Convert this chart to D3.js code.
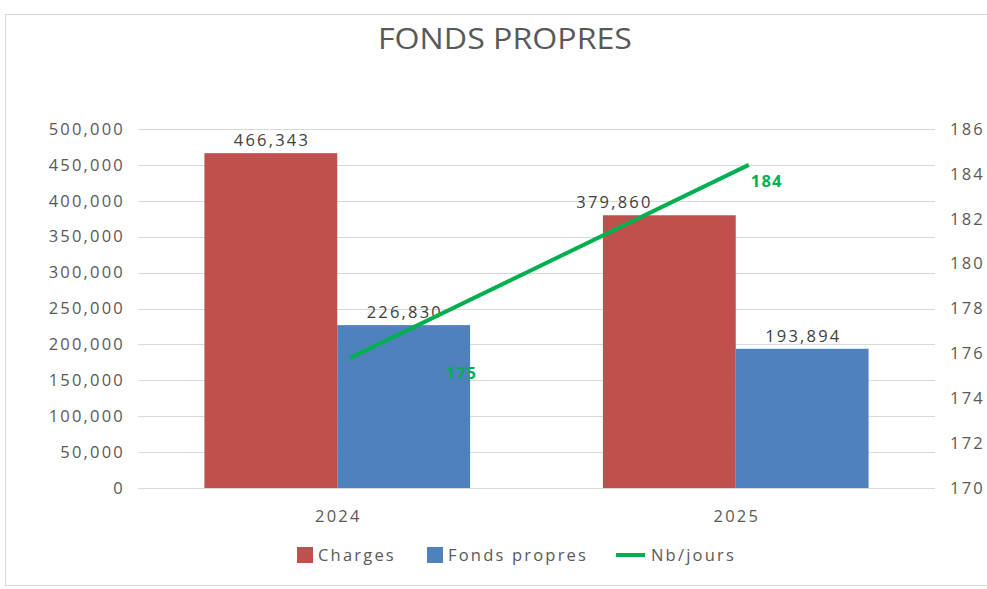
<!DOCTYPE html>
<html>
<head>
<meta charset="utf-8">
<script src="https://cdn.jsdelivr.net/npm/d3@7"></script>
<style>
  body { margin: 0; background: #fff; }
  text { font-family: "Open Sans", "Liberation Sans", sans-serif; }
</style>
</head>
<body>
<div id="chart-area"></div>
<script>
// data
let years = ["2024", "2025"];
let charges = [466343, 379860];
let fondsPropres = [226830, 193894];
let nbJours = [175.8, 184.4];
let leftTicks = [0, 50000, 100000, 150000, 200000, 250000, 300000, 350000, 400000, 450000, 500000];
let rightTicks = [170, 172, 174, 176, 178, 180, 182, 184, 186];

let W = 987, H = 589;
let margin = {top: 129, left: 138, right: 52, bottom: 101};
let width = W - margin.left - margin.right;
let height = H - margin.top - margin.bottom;

let fontSize = 16.5, spacing = 2.2, textColor = "#595959";

let svg = d3.select("#chart-area").append("svg")
    .attr("width", W)
    .attr("height", H);

// chart frame
svg.append("rect")
    .attr("x", 5.5).attr("y", 14.5)
    .attr("width", W).attr("height", 571)
    .attr("fill", "#fff")
    .attr("stroke", "#d9d9d9");

svg.append("text")
    .attr("x", 505).attr("y", 49)
    .attr("text-anchor", "middle")
    .attr("font-size", 29)
    .attr("textLength", 254)
    .attr("lengthAdjust", "spacingAndGlyphs")
    .attr("fill", textColor)
    .text("FONDS PROPRES");

let g = svg.append("g")
    .attr("transform", "translate(" + margin.left + "," + margin.top + ")");

// scales
let x = d3.scaleBand().domain(years).range([0, width]);
let xInner = d3.scaleBand().domain(["charges", "fonds"])
    .range([0, x.bandwidth()]).paddingInner(0).paddingOuter(0.5);
let y = d3.scaleLinear().domain([0, 500000]).range([height, 0]);
let y2 = d3.scaleLinear().domain([170, 186]).range([height, 0]);

function styleText(sel) {
  sel.attr("font-size", fontSize)
    .attr("fill", textColor)
    .style("letter-spacing", spacing + "px")
    .style("font-family", "Open Sans, sans-serif");
}

// gridlines
g.append("g")
    .selectAll("line")
    .data(leftTicks)
    .join("line")
    .attr("x1", 0).attr("x2", width)
    .attr("y1", d => Math.round(y(d)) + 0.5)
    .attr("y2", d => Math.round(y(d)) + 0.5)
    .attr("stroke", "#d9d9d9");

// left axis
let yAxis = d3.axisLeft(y).tickValues(leftTicks)
    .tickFormat(d3.format(",")).tickSize(0).tickPadding(13);
g.append("g").attr("class", "y axis").call(yAxis)
    .call(a => a.select(".domain").remove())
    .selectAll("text").call(styleText);

// right axis
let y2Axis = d3.axisRight(y2).tickValues(rightTicks)
    .tickSize(0).tickPadding(15);
g.append("g").attr("class", "y2 axis")
    .attr("transform", "translate(" + width + ",0)")
    .call(y2Axis)
    .call(a => a.select(".domain").remove())
    .selectAll("text").call(styleText);

// x axis labels
let xAxis = d3.axisBottom(x).tickSize(0).tickPadding(22);
g.append("g").attr("class", "x axis")
    .attr("transform", "translate(" + (spacing / 2) + "," + height + ")")
    .call(xAxis)
    .call(a => a.select(".domain").remove())
    .selectAll("text").call(styleText);

// bars
let series = [
  {key: "charges", values: charges, color: "#C0504D", labelDx: [0, -56]},
  {key: "fonds", values: fondsPropres, color: "#4F81BD", labelDx: [0, 0]}
];

series.forEach(s => {
  g.selectAll(".bar-" + s.key)
    .data(years)
    .join("rect")
    .attr("class", "bar-" + s.key)
    .attr("x", d => x(d) + xInner(s.key))
    .attr("width", xInner.bandwidth())
    .attr("y", (d, i) => y(s.values[i]))
    .attr("height", (d, i) => height - y(s.values[i]))
    .attr("fill", s.color);

  g.selectAll(".lab-" + s.key)
    .data(years)
    .join("text")
    .attr("class", "lab-" + s.key)
    .attr("x", (d, i) => x(d) + xInner(s.key) + xInner.bandwidth() / 2 + spacing / 2 + s.labelDx[i])
    .attr("y", (d, i) => y(s.values[i]) - 7)
    .attr("text-anchor", "middle")
    .call(styleText)
    .attr("fill", "#404040")
    .text((d, i) => d3.format(",")(s.values[i]));
});

// line (secondary axis)
let lineX = d => x(d) + x.bandwidth() / 2 + 13;
g.append("path")
    .datum(years)
    .attr("fill", "none")
    .attr("stroke", "#00B050")
    .attr("stroke-width", 4)
    .attr("d", d3.line()
      .x(d => lineX(d))
      .y((d, i) => y2(nbJours[i])));

let labelOffsets = [[95, 21], [2, 22]];
g.selectAll(".lab-jours")
    .data(years)
    .join("text")
    .attr("class", "lab-jours")
    .attr("x", (d, i) => lineX(d) + labelOffsets[i][0])
    .attr("y", (d, i) => y2(nbJours[i]) + labelOffsets[i][1])
    .attr("font-size", 16.5)
    .attr("font-weight", "bold")
    .style("letter-spacing", "1.2px")
    .attr("fill", "#00B050")
    .text((d, i) => Math.trunc(nbJours[i]));

// legend
let legend = svg.append("g").attr("transform", "translate(297,555)");
let legendItems = [
  {name: "Charges", color: "#C0504D", type: "rect", x: 0},
  {name: "Fonds propres", color: "#4F81BD", type: "rect", x: 130},
  {name: "Nb/jours", color: "#00B050", type: "line", x: 319}
];
legendItems.forEach(it => {
  let item = legend.append("g").attr("transform", "translate(" + it.x + ",0)");
  if (it.type === "rect") {
    item.append("rect").attr("x", 0).attr("y", -8)
      .attr("width", 16).attr("height", 16).attr("fill", it.color);
    item.append("text").attr("x", 21).attr("y", 6)
      .call(styleText).text(it.name);
  } else {
    item.append("line").attr("x1", 0).attr("x2", 29)
      .attr("y1", 0).attr("y2", 0)
      .attr("stroke", it.color).attr("stroke-width", 4);
    item.append("text").attr("x", 35).attr("y", 6)
      .call(styleText).text(it.name);
  }
});
</script>
</body>
</html>
